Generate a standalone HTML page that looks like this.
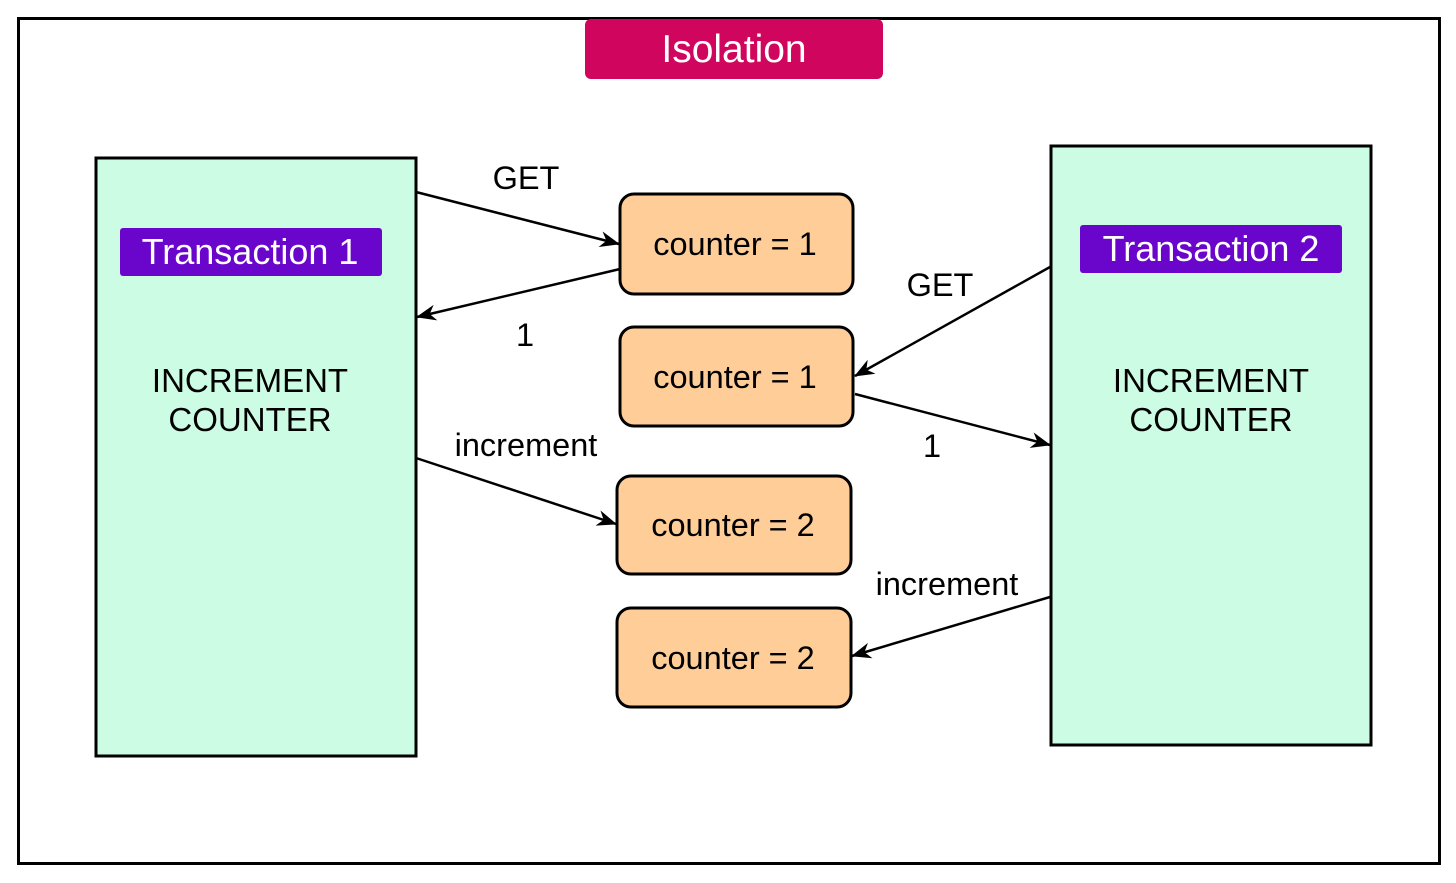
<!DOCTYPE html>
<html><head><style>body{margin:0;background:#fff}svg{display:block}text{font-family:"Liberation Sans",Arial,sans-serif}</style></head><body>
<svg width="1456" height="883" viewBox="0 0 1456 883">
<defs><marker id="b" viewBox="0 0 20 16" markerWidth="20" markerHeight="16" refX="19" refY="8" orient="auto" markerUnits="userSpaceOnUse"><path d="M0,0 L20,8 L0,16 L6,8 Z" fill="#000"/></marker></defs>
<rect x="18.5" y="18.5" width="1421" height="845" fill="#fff" stroke="#000" stroke-width="3"/>
<rect x="585" y="19" width="298" height="60" rx="6" fill="#d0065e"/>
<text x="734" y="62" font-size="39" fill="#fff" text-anchor="middle">Isolation</text>
<rect x="96" y="158" width="320" height="598" fill="#ccfce4" stroke="#000" stroke-width="3"/>
<rect x="1051" y="146" width="320" height="599" fill="#ccfce4" stroke="#000" stroke-width="3"/>
<rect x="120" y="228" width="262" height="48" rx="3" fill="#6a05cc"/>
<text x="250" y="264" font-size="36" fill="#fff" text-anchor="middle">Transaction 1</text>
<rect x="1080" y="225" width="262" height="48" rx="3" fill="#6a05cc"/>
<text x="1211" y="261" font-size="36" fill="#fff" text-anchor="middle">Transaction 2</text>
<g font-size="33" text-anchor="middle"><text x="250" y="392">INCREMENT</text><text x="250" y="431">COUNTER</text>
<text x="1211" y="392">INCREMENT</text><text x="1211" y="431">COUNTER</text></g>
<g fill="#ffcd98" stroke="#000" stroke-width="3">
<rect x="620" y="194" width="233" height="100" rx="14"/><rect x="620" y="327" width="233" height="99" rx="14"/>
<rect x="617" y="476" width="234" height="98" rx="14"/><rect x="617" y="608" width="234" height="99" rx="14"/></g>
<g font-size="32.5" text-anchor="middle"><text x="735" y="255">counter = 1</text><text x="735" y="388">counter = 1</text>
<text x="733" y="536">counter = 2</text><text x="733" y="669">counter = 2</text>
<text x="526" y="189">GET</text><text x="525" y="346">1</text><text x="940" y="296">GET</text><text x="932" y="457">1</text>
<text x="526" y="456">increment</text><text x="947" y="595">increment</text></g>
<g stroke="#000" stroke-width="2.5" fill="none" marker-end="url(#b)">
<line x1="416" y1="192" x2="619" y2="244"/><line x1="620" y1="269" x2="417" y2="317"/>
<line x1="1050" y1="267" x2="855" y2="376"/><line x1="855" y1="394" x2="1050" y2="445"/>
<line x1="416" y1="458" x2="616" y2="524"/><line x1="1050" y1="597" x2="852" y2="656"/></g>
</svg></body></html>
